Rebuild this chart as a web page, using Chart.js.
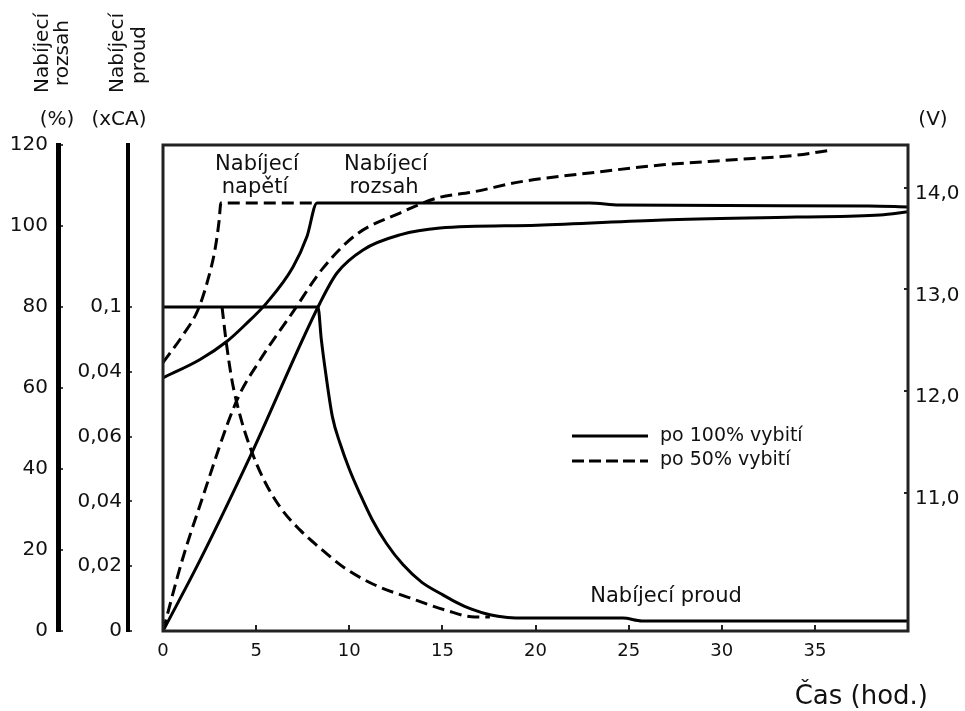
<!DOCTYPE html>
<html>
<head>
<meta charset="utf-8">
<script src="https://cdn.jsdelivr.net/npm/chart.js@4.4.0/dist/chart.umd.min.js"></script>
<style>
  html, body { margin: 0; padding: 0; background: #fff; }
</style>
</head>
<body>
<canvas id="chart" width="965" height="711"></canvas>
<script>
// values (hours -> value)
const voltFullHours = [0, 1.99, 3.44, 4.4, 5.58, 6.98, 7.73, 8.27, 22.9, 24.5, 37.9, 40];
const voltFullValues = [12.13, 12.31, 12.49, 12.65, 12.87, 13.22, 13.52, 13.85, 13.85, 13.83, 13.82, 13.81];
const voltHalfHours = [0, 1.07, 1.88, 2.42, 2.79, 3.01, 3.11, 8.27];
const voltHalfValues = [12.28, 12.55, 12.8, 13.1, 13.39, 13.67, 13.85, 13.85];

const rangeFullHours = [0, 1.99, 4.67, 8.43, 9.34, 10.74, 12.72, 14.87, 20.08, 26.84, 34.03, 38.5, 40];
const rangeFullValues = [0, 17.5, 43, 81, 88.4, 94.1, 97.8, 99.5, 100.2, 101.5, 102.2, 102.7, 103.5];
const rangeHalfHours = [0, 1, 1.99, 3.97, 5.21, 6.98, 8.59, 10.41, 12.72, 14.71, 16.64, 19.16, 23.3, 26.84, 30.43, 34.03, 35.96];
const rangeHalfValues = [0, 17, 31.1, 57, 66.9, 78.8, 89.6, 98, 103.2, 106.9, 108.4, 110.9, 113.3, 115.1, 116.3, 117.5, 118.8];

const currFullHours = [0, 8.32, 8.5, 8.75, 9.1, 9.5, 10, 10.6, 11.22, 12, 12.88, 13.9, 14.92, 15.7, 16.53, 17.55, 18.5, 19.5, 24.69, 25.71, 40];
const currFullValues = [0.1, 0.1, 0.09, 0.079, 0.066, 0.058, 0.05, 0.042, 0.0345, 0.027, 0.0205, 0.015, 0.0115, 0.009, 0.0068, 0.005, 0.0042, 0.004, 0.004, 0.0031, 0.0031];
const currHalfHours = [3.17, 3.38, 3.7, 4.13, 4.67, 5.37, 6.28, 7.35, 8.43, 9.77, 11.38, 13.26, 15.14, 16.75, 17.55];
const currHalfValues = [0.1, 0.0898, 0.0775, 0.0667, 0.0568, 0.0472, 0.0383, 0.0312, 0.0256, 0.0194, 0.0142, 0.0102, 0.0065, 0.0043, 0.0043];

// tick labels as printed on the original (the 0,08 mark really reads 0,04)
const currentTickLabels = ['0', '0,02', '0,04', '0,06', '0,04', '0,1'];
const voltTicks = [11, 12, 13, 14];
const hourTicks = [0, 5, 10, 15, 20, 25, 30, 35];

const FONT = '"DejaVu Sans", sans-serif';
const pts = (xs, ys) => xs.map((x, i) => ({ x: x, y: ys[i] }));

const line = (data, axis, dashed) => ({
    data: data,
    yAxisID: axis,
    borderColor: '#000',
    borderWidth: 3,
    borderDash: dashed ? [12, 6] : [],
    pointRadius: 0,
    fill: false,
    cubicInterpolationMode: 'monotone',
});

const overlay = {
    id: 'overlay',
    afterDatasetsDraw(chart) {
        const { ctx, chartArea: a } = chart;
        ctx.save();
        ctx.strokeStyle = '#222';
        ctx.lineWidth = 3;
        ctx.strokeRect(a.left, a.top, a.right - a.left, a.bottom - a.top);
        ctx.restore();
    },
    afterDraw(chart) {
        const ctx = chart.ctx;
        ctx.save();
        ctx.fillStyle = '#111';
        ctx.font = '20px ' + FONT;
        ctx.textAlign = 'center';
        ctx.textBaseline = 'alphabetic';

        // rotated headings of the two left axes
        const rot = (txt, x, y) => {
            ctx.save();
            ctx.translate(x, y);
            ctx.rotate(-Math.PI / 2);
            ctx.fillText(txt, 0, 0);
            ctx.restore();
        };
        rot('Nabíjecí', 48, 53);
        rot('rozsah', 68, 53);
        rot('Nabíjecí', 123, 53);
        rot('proud', 145, 55);

        ctx.fillText('(%)', 57, 125);
        ctx.fillText('(xCA)', 119, 125);
        ctx.fillText('(V)', 933, 125);

        // curve labels
        ctx.font = '21px ' + FONT;
        ctx.fillText('Nabíjecí', 257, 170);
        ctx.fillText('napětí', 255, 193);
        ctx.fillText('Nabíjecí', 386, 170);
        ctx.fillText('rozsah', 384, 193);
        ctx.fillText('Nabíjecí proud', 666, 602);

        // legend
        ctx.strokeStyle = '#000';
        ctx.lineWidth = 3;
        ctx.beginPath(); ctx.moveTo(572, 436); ctx.lineTo(648, 436); ctx.stroke();
        ctx.setLineDash([12, 5]);
        ctx.beginPath(); ctx.moveTo(572, 461); ctx.lineTo(648, 461); ctx.stroke();
        ctx.setLineDash([]);
        ctx.font = '19px ' + FONT;
        ctx.textAlign = 'left';
        ctx.textBaseline = 'middle';
        ctx.fillText('po 100% vybití', 660, 436);
        ctx.fillText('po 50% vybití', 660, 460);

        // x axis title
        ctx.font = '26px ' + FONT;
        ctx.textAlign = 'right';
        ctx.textBaseline = 'alphabetic';
        ctx.fillText('Čas (hod.)', 928, 704);
        ctx.restore();
    }
};

new Chart(document.getElementById('chart'), {
    type: 'line',
    data: {
        datasets: [
            line(pts(voltFullHours, voltFullValues), 'yV', false),
            line(pts(voltHalfHours, voltHalfValues), 'yV', true),
            line(pts(rangeFullHours, rangeFullValues), 'yP', false),
            line(pts(rangeHalfHours, rangeHalfValues), 'yP', true),
            line(pts(currFullHours, currFullValues), 'yC', false),
            line(pts(currHalfHours, currHalfValues), 'yC', true),
        ]
    },
    options: {
        responsive: false,
        animation: false,
        layout: { padding: { top: 145, left: 0, right: 0, bottom: 0 } },
        plugins: { legend: { display: false }, tooltip: { enabled: false } },
        scales: {
            x: {
                type: 'linear',
                min: 0,
                max: 40,
                border: { display: false },
                grid: { drawOnChartArea: false, tickLength: -6, color: '#222', lineWidth: 2 },
                ticks: {
                    stepSize: 5,
                    padding: 16,
                    color: '#111',
                    font: { family: FONT, size: 18 },
                    callback: v => hourTicks.includes(v) ? String(v) : null
                },
                afterFit: s => { s.height = 80; }
            },
            yP: {
                position: 'left',
                weight: 2,
                min: 0,
                max: 120,
                border: { display: true, color: '#000', width: 5 },
                grid: { drawOnChartArea: false, tickLength: -5, color: '#444', lineWidth: 2 },
                ticks: { stepSize: 20, padding: 15, color: '#111', font: { family: FONT, size: 20 } },
                afterFit: s => { s.width = 58; }
            },
            yC: {
                position: 'left',
                weight: 1,
                min: 0,
                max: 0.15,
                border: { display: true, color: '#000', width: 4 },
                grid: { drawOnChartArea: false, tickLength: -4, color: '#444', lineWidth: 2 },
                ticks: {
                    stepSize: 0.02,
                    padding: 10,
                    color: '#111',
                    font: { family: FONT, size: 20 },
                    callback: v => {
                        const i = Math.round(v / 0.02);
                        return Math.abs(v - i * 0.02) < 1e-6 && i < currentTickLabels.length ? currentTickLabels[i] : null;
                    }
                },
                afterFit: s => { s.width = 70; }
            },
            gap: {
                position: 'left',
                weight: 0,
                min: 0,
                max: 1,
                border: { display: false },
                grid: { display: false },
                ticks: { display: false },
                afterFit: s => { s.width = 35; }
            },
            yV: {
                position: 'right',
                min: 9.64,
                max: 14.42,
                border: { display: false },
                grid: { drawOnChartArea: false, tickLength: -4, color: '#222', lineWidth: 2 },
                ticks: {
                    stepSize: 1,
                    padding: 11,
                    labelOffset: 6,
                    color: '#111',
                    font: { family: FONT, size: 20 },
                    callback: v => {
                        const r = Math.round(v);
                        return Math.abs(v - r) < 1e-6 && voltTicks.includes(r) ? r.toFixed(1).replace('.', ',') : null;
                    }
                },
                afterFit: s => { s.width = 57; }
            }
        }
    },
    plugins: [overlay]
});
</script>
</body>
</html>
